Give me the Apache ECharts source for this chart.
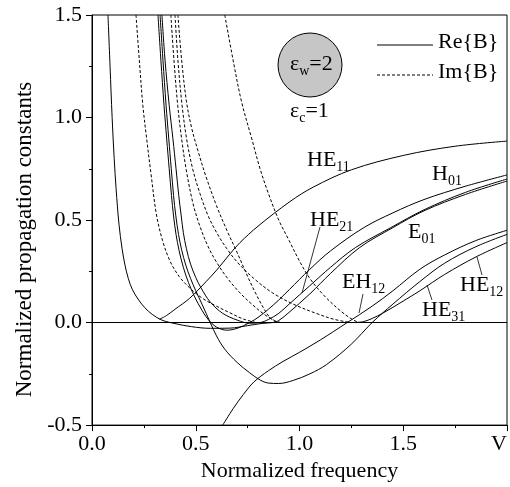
<!DOCTYPE html>
<html lang="en">
<head>
<meta charset="UTF-8">
<title>Propagation constants</title>
<style>
  * { margin: 0; padding: 0; }
  body { background: #fff; }
  #chart { width: 510px; height: 487px; }
</style>
</head>
<body>
<div id="chart"></div>
<script src="https://cdn.jsdelivr.net/npm/echarts@6/dist/echarts.min.js"></script>
<script>
// ---- data: [V, B] ----
// real parts (solid)
var reHE11 = [[0.325,0.016],[0.36,0.035],[0.4,0.065],[0.47,0.118],[0.55,0.2],[0.6,0.255],[0.665,0.335],[0.713,0.39],[0.8,0.47],[0.954,0.59],[1.065,0.66],[1.25,0.745],[1.5,0.815],[1.75,0.86],[2.0,0.885]];
var reHE21 = [[0.077,1.5],[0.087,1.25],[0.097,1.0],[0.107,0.8],[0.116,0.655],[0.13,0.48],[0.145,0.36],[0.159,0.28],[0.175,0.215],[0.195,0.16],[0.225,0.11],[0.255,0.072],[0.29,0.04],[0.337,0.012],[0.4,-0.005],[0.48,-0.02],[0.57,-0.028],[0.665,-0.027],[0.75,-0.015],[0.82,-0.004],[0.87,0.0],[0.9,0.01],[0.95,0.05],[1.05,0.14],[1.15,0.24],[1.29,0.366],[1.45,0.463],[1.6,0.545],[1.8,0.625],[2.0,0.69]];
var reH01 = [[0.318,1.5],[0.332,1.28],[0.347,1.06],[0.36,0.896],[0.372,0.75],[0.383,0.62],[0.393,0.52],[0.405,0.43],[0.42,0.35],[0.44,0.27],[0.465,0.195],[0.495,0.125],[0.53,0.06],[0.56,0.015],[0.6,-0.022],[0.65,-0.037],[0.7,-0.028],[0.76,0.0],[0.8,0.025],[0.85,0.065],[0.9,0.11],[0.95,0.16],[1.05,0.26],[1.15,0.35],[1.31,0.463],[1.45,0.535],[1.6,0.6],[1.8,0.665],[2.0,0.72]];
var reE01 = [[0.337,1.5],[0.352,1.28],[0.372,1.06],[0.39,0.896],[0.405,0.75],[0.418,0.62],[0.43,0.52],[0.44,0.44],[0.455,0.36],[0.475,0.285],[0.5,0.22],[0.525,0.17],[0.57,0.1],[0.63,0.045],[0.7,0.012],[0.76,-0.003],[0.81,0.0],[0.85,0.015],[0.9,0.045],[0.95,0.09],[1.05,0.18],[1.15,0.27],[1.27,0.366],[1.44,0.463],[1.6,0.55],[1.8,0.635],[2.0,0.7]];
var reHE31 = [[0.328,1.5],[0.342,1.28],[0.357,1.06],[0.37,0.896],[0.382,0.75],[0.393,0.62],[0.404,0.52],[0.417,0.43],[0.432,0.355],[0.452,0.28],[0.475,0.215],[0.5,0.155],[0.53,0.09],[0.57,0.0],[0.6,-0.065],[0.64,-0.13],[0.7,-0.195],[0.76,-0.245],[0.81,-0.28],[0.85,-0.295],[0.9,-0.297],[0.97,-0.282],[1.05,-0.25],[1.13,-0.205],[1.25,-0.105],[1.35,0.0],[1.45,0.09],[1.58,0.2],[1.7,0.29],[1.85,0.37],[2.0,0.43]];
var reEH12 = [[0.63,-0.5],[0.68,-0.42],[0.73,-0.35],[0.78,-0.29],[0.85,-0.235],[0.92,-0.19],[1.0,-0.145],[1.1,-0.085],[1.23,0.0],[1.35,0.08],[1.45,0.155],[1.58,0.26],[1.7,0.33],[1.85,0.4],[2.0,0.45]];
var reHE12 = [[1.27,0.0],[1.31,0.005],[1.35,0.02],[1.4,0.045],[1.5,0.105],[1.58,0.155],[1.7,0.235],[1.85,0.32],[2.0,0.39]];
// imaginary parts (dashed)
var imA = [[0.212,1.5],[0.228,1.28],[0.245,1.06],[0.263,0.9],[0.285,0.72],[0.31,0.53],[0.34,0.4],[0.376,0.3],[0.42,0.225],[0.47,0.17],[0.53,0.12],[0.6,0.08],[0.67,0.045],[0.73,0.017],[0.79,0.0]];
var imB = [[0.38,1.5],[0.395,1.28],[0.413,1.06],[0.432,0.896],[0.455,0.74],[0.487,0.58],[0.52,0.47],[0.56,0.37],[0.6,0.295],[0.65,0.22],[0.713,0.145],[0.77,0.09],[0.83,0.04],[0.88,0.01],[0.91,0.0]];
var imC = [[0.4,1.5],[0.414,1.28],[0.434,1.06],[0.456,0.896],[0.485,0.75],[0.52,0.63],[0.56,0.52],[0.6,0.44],[0.65,0.36],[0.7,0.295],[0.78,0.215],[0.87,0.145],[0.97,0.09],[1.08,0.045],[1.17,0.015],[1.25,0.0]];
var imD = [[0.414,1.5],[0.432,1.28],[0.455,1.08],[0.48,0.95],[0.51,0.84],[0.55,0.71],[0.6,0.57],[0.65,0.45],[0.7,0.34],[0.75,0.225],[0.79,0.14],[0.83,0.065],[0.86,0.022],[0.89,0.0]];
var imE = [[0.64,1.5],[0.68,1.28],[0.72,1.08],[0.77,0.896],[0.81,0.75],[0.85,0.63],[0.9,0.5],[0.95,0.4],[1.0,0.3],[1.05,0.215],[1.12,0.13],[1.2,0.055],[1.26,0.012],[1.29,0.0]];

var xTicks = [0, 0.5, 1.0, 1.5, 2.0];
var FONT = '"Liberation Serif", "Times New Roman", serif';

var myChart = echarts.init(document.getElementById('chart'));

var ctx = document.createElement('canvas').getContext('2d');
function textW(t, size) {
  ctx.font = size + 'px ' + FONT;
  return ctx.measureText(t).width;
}

// text with subscripts: parts = [[text, isSub], ...], capTop = top of capitals
function chain(x, capTop, parts) {
  var els = [];
  parts.forEach(function (p) {
    var size = p[1] ? 14 : 22;
    var y = p[1] ? capTop + 10 - 2.2 : capTop - 3.8;
    els.push({
      type: 'text', x: x, y: y, silent: true,
      style: { text: p[0], fontSize: size, fontFamily: FONT, fill: '#000', align: 'left', verticalAlign: 'top' }
    });
    x += textW(p[0], size);
  });
  return els;
}

function seg(x1, y1, x2, y2, dash) {
  return { type: 'line', silent: true, shape: { x1: x1, y1: y1, x2: x2, y2: y2 },
    style: { stroke: '#000', lineWidth: dash ? 1 : 0.8, lineDash: dash || null } };
}

var graphics = [
  { type: 'circle', silent: true, shape: { cx: 310, cy: 65, r: 32 }, style: { fill: '#c6c6c6', stroke: '#000', lineWidth: 1 } },
  { type: 'text', x: 25, y: 239.5, rotation: Math.PI / 2, silent: true,
    style: { text: 'Normalized propagation constants', fontSize: 23, fontFamily: FONT, fill: '#000', align: 'center', verticalAlign: 'middle' } },
  // legend
  { type: 'line', silent: true, shape: { x1: 377, y1: 45, x2: 433, y2: 45 }, style: { stroke: '#000', lineWidth: 1 } },
  { type: 'line', silent: true, shape: { x1: 377, y1: 75, x2: 433, y2: 75 }, style: { stroke: '#000', lineWidth: 1, lineDash: [3, 2] } },
  // leader lines of the mode labels
  seg(320, 227, 302, 293),
  seg(363, 294, 359, 313),
  seg(427, 285, 432, 300),
  seg(477, 257, 482, 275)
];
graphics = graphics
  .concat(chain(438, 35, [['Re{B}', false]]))
  .concat(chain(438, 65, [['Im{B}', false]]))
  .concat(chain(290, 57, [['ε', false], ['w', true], ['=2', false]]))
  .concat(chain(290, 104, [['ε', false], ['c', true], ['=1', false]]))
  .concat(chain(307, 153, [['HE', false], ['11', true]]))
  .concat(chain(432, 167, [['H', false], ['01', true]]))
  .concat(chain(310, 213, [['HE', false], ['21', true]]))
  .concat(chain(408, 225, [['E', false], ['01', true]]))
  .concat(chain(342, 275, [['EH', false], ['12', true]]))
  .concat(chain(422, 303, [['HE', false], ['31', true]]))
  .concat(chain(460, 278, [['HE', false], ['12', true]]));

function curve(name, data, dashed) {
  return {
    name: name,
    type: 'line',
    data: data,
    symbol: 'none',
    smooth: 0.35,
    silent: true,
    lineStyle: { color: '#000', width: 1, type: dashed ? [3, 2] : 'solid' }
  };
}

var series = [
  curve('Re{B}', reHE11, false),
  curve('Re{B}', reHE21, false),
  curve('Re{B}', reH01, false),
  curve('Re{B}', reE01, false),
  curve('Re{B}', reHE31, false),
  curve('Re{B}', reEH12, false),
  curve('Re{B}', reHE12, false),
  curve('Im{B}', imA, true),
  curve('Im{B}', imB, true),
  curve('Im{B}', imC, true),
  curve('Im{B}', imD, true),
  curve('Im{B}', imE, true)
];
series[0].markLine = {
  silent: true, symbol: 'none', label: { show: false },
  lineStyle: { color: '#000', type: 'solid', width: 1 },
  data: [{ yAxis: 0 }]
};

myChart.setOption({
  animation: false,
  backgroundColor: '#fff',
  grid: { left: 92, right: 3, top: 15, bottom: 57, show: true, borderColor: '#000', borderWidth: 1 },
  xAxis: {
    type: 'value', min: 0, max: 2, interval: 0.5,
    name: 'Normalized frequency', nameLocation: 'middle', nameGap: 27,
    nameTextStyle: { fontSize: 22, fontFamily: FONT, color: '#000', verticalAlign: 'top' },
    axisLine: { onZero: false, lineStyle: { color: '#000', width: 1 } },
    axisTick: { length: 6, lineStyle: { color: '#000' } },
    minorTick: { show: true, splitNumber: 2, length: 3, lineStyle: { color: '#000' } },
    splitLine: { show: false },
    axisLabel: {
      color: '#000', fontSize: 22, fontFamily: FONT, margin: 8, alignMaxLabel: 'right',
      formatter: function (v) { return v === xTicks[xTicks.length - 1] ? 'V' : v.toFixed(1); }
    }
  },
  yAxis: {
    type: 'value', min: -0.5, max: 1.5, interval: 0.5,
    axisLine: { onZero: false, lineStyle: { color: '#000', width: 1 } },
    axisTick: { length: 6, lineStyle: { color: '#000' } },
    minorTick: { show: true, splitNumber: 2, length: 3, lineStyle: { color: '#000' } },
    splitLine: { show: false },
    axisLabel: {
      color: '#000', fontSize: 22, fontFamily: FONT, margin: 10,
      formatter: function (v) { return v.toFixed(1); }
    }
  },
  graphic: graphics,
  series: series
});
</script>
</body>
</html>
